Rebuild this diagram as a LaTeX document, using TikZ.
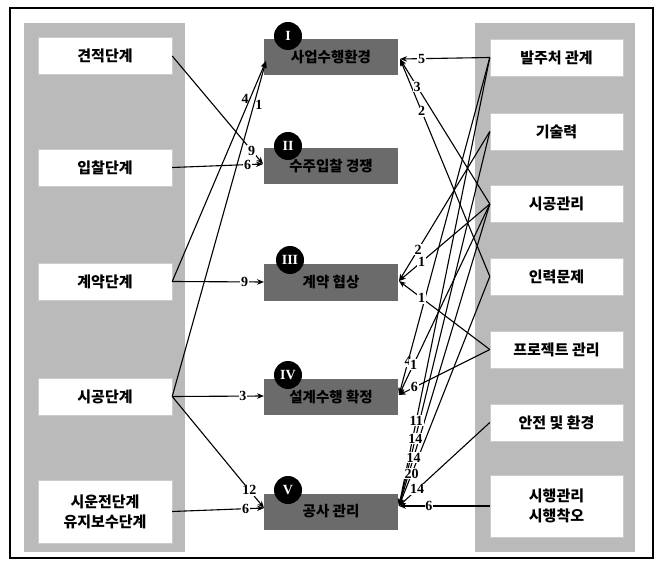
\documentclass[tikz,border=0pt]{standalone}
\usepackage{fontspec}
\setmainfont{Noto Sans CJK KR}
\newfontfamily\numfont{Liberation Serif}
\usetikzlibrary{arrows.meta}
\begin{document}
\begin{tikzpicture}[x=1pt,y=-1pt,
  panel/.style={fill=black!27, draw=none},
  wbox/.style={fill=white, draw=black!20, line width=0.4pt, minimum width=134pt, minimum height=37pt, inner sep=0pt, font=\fontsize{15}{20}\selectfont\bfseries, align=center},
  dbox/.style={fill=black!58, draw=none, minimum width=134pt, minimum height=36pt, inner sep=0pt, font=\fontsize{14.5}{16}\selectfont\bfseries},
  rnum/.style={circle, fill=black, text=white, minimum size=28pt, inner sep=0pt, font=\numfont\fontsize{14}{14}\selectfont\bfseries},
  arr/.style={-{Stealth[length=7pt,width=5.5pt]}, line width=1.1pt},
  lab/.style={fill=white, inner sep=0.8pt, font=\numfont\fontsize{14}{14}\selectfont\bfseries},
  labn/.style={inner sep=1pt, font=\numfont\fontsize{14}{14}\selectfont\bfseries}
]
\useasboundingbox (0,0) rectangle (661,569);
\fill[white] (0,0) rectangle (661,569);
\draw[line width=1.3pt] (10,8) rectangle (653,558);
% panels
\fill[panel] (24,23) rectangle (185,552);
\fill[panel] (475,23) rectangle (635,552);
% left boxes
\node[wbox] (k1) at (105,56) {견적단계};
\node[wbox] (k2) at (105,167.5) {입찰단계};
\node[wbox] (k3) at (105,281.5) {계약단계};
\node[wbox] (k4) at (105,396.5) {시공단계};
\node[wbox, minimum height=63pt] (k5) at (105,511.5) {시운전단계\\유지보수단계};
% right boxes
\node[wbox, minimum width=133pt] (r1) at (556.5,57.5) {발주처 관계};
\node[wbox, minimum width=133pt] (r2) at (556.5,131.5) {기술력};
\node[wbox, minimum width=133pt] (r3) at (556.5,204) {시공관리};
\node[wbox, minimum width=133pt] (r4) at (556.5,276.5) {인력문제};
\node[wbox, minimum width=133pt] (r5) at (556.5,349.5) {프로젝트 관리};
\node[wbox, minimum width=133pt] (r6) at (556.5,422.5) {안전 및 환경};
\node[wbox, minimum width=133pt, minimum height=62pt] (r7) at (556.5,506) {시행관리\\시행착오};
% center boxes
\node[dbox] (c1) at (331,57) {사업수행환경};
\node[dbox] (c2) at (331,166.5) {수주입찰 경쟁};
\node[dbox] (c3) at (331,282.5) {계약 협상};
\node[dbox] (c4) at (331,397) {설계수행 확정};
\node[dbox] (c5) at (331,511.5) {공사 관리};
\node[rnum] (n1) at (288,36) {I};
\node[rnum] (n2) at (288,146) {II};
\node[rnum] (n3) at (290,260) {III};
\node[rnum] (n4) at (288,375) {IV};
\node[rnum] (n5) at (288,490) {V};
% arrow tips
\coordinate (c1L) at (266,61);
\coordinate (c2L) at (263,164);
\coordinate (c3L) at (264,282);
\coordinate (c4L) at (264,396);
\coordinate (c5L) at (264,508);
\coordinate (c1R) at (400,59);
\coordinate (c3R) at (399,281);
\coordinate (c4R) at (399,395);
\coordinate (c5R) at (399,506);
\def\edges{k1.east/c2L/0.875/9, k2.east/c2L/0.83/6, k3.east/c3L/0.79/9, k4.east/c4L/0.77/3, k4.east/c5L/0.84/12, k5.east/c5L/0.8/6,
 r1.west/c1R/0.76/5, r3.west/c1R/0.81/3, r4.west/c1R/0.76/2,
 r2.west/c3R/0.79/2, r3.west/c3R/0.75/1, r5.west/c3R/0.75/1,
 r1.west/c4R/0.9/4, r3.west/c4R/0.84/1, r5.west/c4R/0.83/6,
 r1.west/c5R/0.81/11, r2.west/c5R/0.82/14, r3.west/c5R/0.84/14, r4.west/c5R/0.86/20, r6.west/c5R/0.8/14, r7.west/c5R/0.67/6}
\draw[arr] (k3.east) -- node[labn,pos=0.83,left]{4} (c1L);
\draw[arr] (k4.east) -- node[labn,pos=0.87,right]{1} (c1L);
\foreach \a/\b/\p/\l in \edges {\draw[arr] (\a) -- (\b);}
\foreach \a/\b/\p/\l in \edges {\path (\a) -- (\b) node[lab,pos=\p]{\l};}
\end{tikzpicture}
\end{document}
